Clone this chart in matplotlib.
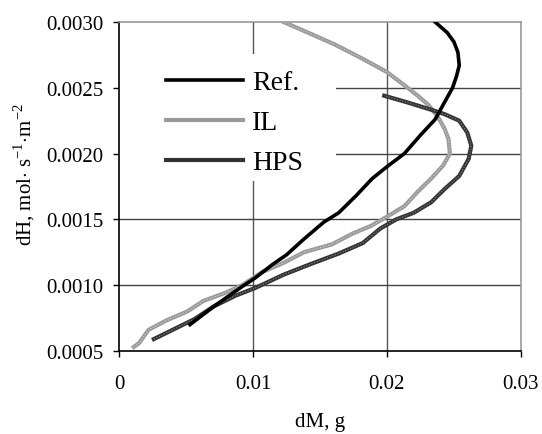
import numpy as np
import matplotlib.pyplot as plt
from matplotlib.patches import Rectangle

plt.rcParams['font.family'] = ['Liberation Serif', 'DejaVu Serif']
plt.rcParams['mathtext.fontset'] = 'custom'
plt.rcParams['mathtext.rm'] = 'Liberation Serif'

# Ref. curve
ref_dm = [0.0053, 0.0071, 0.0092, 0.0101, 0.0115, 0.0125, 0.0138, 0.0153, 0.0164,
          0.0177, 0.0189, 0.0200, 0.0213, 0.0225, 0.0236, 0.0243, 0.0249, 0.0252,
          0.0254, 0.0253, 0.0250, 0.0245, 0.0236]
ref_dh = [0.00070, 0.00084, 0.00099, 0.00105, 0.00116, 0.00123, 0.00135, 0.00148, 0.00155,
          0.00168, 0.00181, 0.00190, 0.00200, 0.00214, 0.00226, 0.00239, 0.00250, 0.00259,
          0.00267, 0.00277, 0.00285, 0.00292, 0.00300]

# IL curve
il_dm = [0.0011, 0.0015, 0.0022, 0.0035, 0.0051, 0.0063, 0.0079, 0.0092, 0.0107, 0.0123,
         0.0138, 0.0159, 0.0174, 0.0188, 0.0200, 0.0213, 0.0223, 0.0233, 0.0242, 0.0247,
         0.0246, 0.0243, 0.0238, 0.0231, 0.0223, 0.0213, 0.0200, 0.0182, 0.0161, 0.0141,
         0.0123]
il_dh = [0.00053, 0.00056, 0.00066, 0.00073, 0.00080, 0.00088, 0.00094, 0.00100, 0.00110, 0.00117,
         0.00125, 0.00131, 0.00139, 0.00145, 0.00152, 0.00160, 0.00171, 0.00181, 0.00191, 0.00200,
         0.00211, 0.00219, 0.00228, 0.00237, 0.00244, 0.00252, 0.00262, 0.00272, 0.00283, 0.00292,
         0.00300]

# HPS curve
hps_dm = [0.0026, 0.0040, 0.0056, 0.0071, 0.0087, 0.0102, 0.0123, 0.0143, 0.0164, 0.0182,
          0.0195, 0.0207, 0.0220, 0.0233, 0.0243, 0.0254, 0.0261, 0.0263, 0.0260, 0.0254,
          0.0243, 0.0231, 0.0215, 0.0198]
hps_dh = [0.00059, 0.00066, 0.00074, 0.00084, 0.00092, 0.00098, 0.00108, 0.00116, 0.00124, 0.00132,
          0.00143, 0.00150, 0.00155, 0.00163, 0.00173, 0.00183, 0.00196, 0.00206, 0.00216, 0.00225,
          0.00230, 0.00234, 0.00239, 0.00244]

x_ticks = [0, 0.01, 0.02, 0.03]
x_labels = ['0', '0.01', '0.02', '0.03']
y_ticks = [0.0005, 0.0010, 0.0015, 0.0020, 0.0025, 0.0030]
y_labels = ['0.0005', '0.0010', '0.0015', '0.0020', '0.0025', '0.0030']

fig = plt.figure(figsize=(5.42, 4.35), dpi=100)
ax = fig.add_axes([0.2196, 0.191, 0.7414, 0.756])

# grid
for xv in [0.01, 0.02]:
    ax.axvline(xv, color='#555555', lw=1, zorder=1)
for yv in [0.0010, 0.0015, 0.0020, 0.0025]:
    ax.axhline(yv, color='#444444', lw=1, zorder=1)

# white area behind the legend (hides the grid there)
ax.add_patch(Rectangle((0, 0.517), 0.54, 0.386, transform=ax.transAxes,
                       facecolor='white', edgecolor='none', zorder=2))

ax.plot(ref_dm, ref_dh, color='black', lw=2.6, label='Ref.', zorder=4)
ax.plot(il_dm, il_dh, color='#9a9a9a', lw=3, label='IL', zorder=3)
ax.plot(il_dm, il_dh, color='#d0d0d0', lw=0.8, ls=(0, (1, 1.5)), zorder=3)
ax.plot(hps_dm, hps_dh, color='#333333', lw=3, label='HPS', zorder=3)
ax.plot(hps_dm, hps_dh, color='#888888', lw=0.8, ls=(0, (1, 1.5)), zorder=3)

ax.set_xlim(0, 0.03)
ax.set_ylim(0.0005, 0.0030)
ax.set_xticks(x_ticks)
ax.set_xticklabels(x_labels)
ax.set_yticks(y_ticks)
ax.set_yticklabels(y_labels)
ax.tick_params(direction='out', length=4.5, width=1, labelsize=15, color='black')
ax.tick_params(axis='y', pad=7)
ax.tick_params(axis='x', pad=12)

ax.spines['left'].set_color('black')
ax.spines['bottom'].set_color('black')
ax.spines['top'].set_color('#999999')
ax.spines['right'].set_color('#999999')
for s in ax.spines.values():
    s.set_linewidth(1.2)

ax.set_xlabel('dM, g', fontsize=15)
ax.xaxis.set_label_coords(0.5, -0.185)
ax.set_ylabel('dH, mol$\\cdot$ s$^{-1}$$\\cdot$m$^{-2}$', fontsize=15)
ax.yaxis.set_label_coords(-0.205, 0.54)

leg = ax.legend(loc='upper left', bbox_to_anchor=(166 / 542, 1 - 71 / 435),
                bbox_transform=fig.transFigure, fontsize=20,
                handlelength=2.77, handletextpad=0.32, labelspacing=0.52,
                frameon=False, borderpad=0, borderaxespad=0)
leg.set_zorder(5)

fig.savefig('out.png', dpi=100)
